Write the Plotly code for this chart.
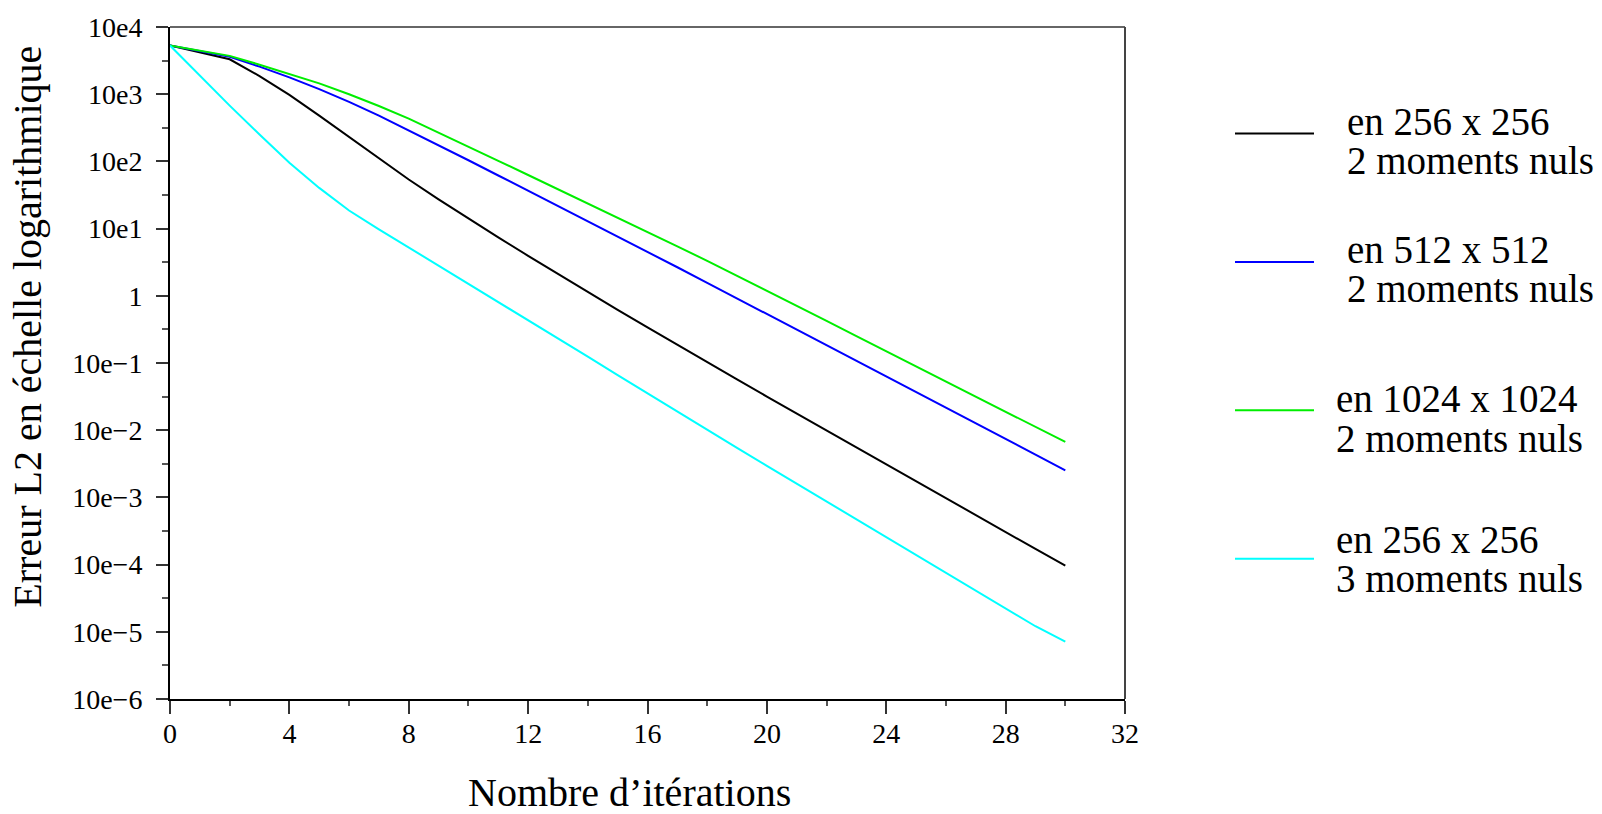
import plotly.graph_objects as go

# Iteration counts (x axis)
iterations = list(range(31))

# L2 error per iteration for each configuration
err_256_2m = [5.30e3, 4.17e3, 3.31e3, 1.86e3, 977, 479, 229, 110, 53.7, 27.2,
              14.1, 7.41, 3.94, 2.11, 1.14, 0.619, 0.339, 0.186, 0.103, 0.0570,
              0.0317, 0.0177, 9.84e-3, 5.50e-3, 3.07e-3, 1.72e-3, 9.64e-4, 5.41e-4,
              3.04e-4, 1.71e-4, 9.62e-5]
err_512_2m = [5.30e3, 4.37e3, 3.60e3, 2.57e3, 1.78e3, 1.19e3, 767, 479, 290, 173,
              104, 61.7, 36.7, 21.8, 12.9, 7.66, 4.52, 2.66, 1.56, 0.916,
              0.537, 0.315, 0.185, 0.108, 0.0634, 0.0372, 0.0218, 0.0127,
              7.41e-3, 4.34e-3, 2.53e-3]
err_1024_2m = [5.30e3, 4.44e3, 3.72e3, 2.75e3, 2.02e3, 1.45e3, 1.00e3, 668, 432, 269,
               164, 102, 62.8, 38.7, 23.8, 14.6, 8.93, 5.45, 3.31, 1.99,
               1.19, 0.708, 0.422, 0.251, 0.150, 0.0891, 0.0531, 0.0316,
               0.0188, 0.0112, 6.68e-3]
err_256_3m = [5.30e3, 1.88e3, 676, 251, 95.5, 40.3, 18.6, 9.77, 5.25, 2.82,
              1.53, 0.817, 0.436, 0.232, 0.124, 0.0661, 0.0352, 0.0188, 0.0101,
              5.46e-3, 2.95e-3, 1.60e-3, 8.71e-4, 4.73e-4, 2.55e-4, 1.38e-4,
              7.50e-5, 4.07e-5, 2.23e-5, 1.21e-5, 7.14e-6]

series_values = [err_256_2m, err_512_2m, err_1024_2m, err_256_3m]
series_colors = ["#000000", "#0000ff", "#00ee00", "#00ffff"]
legend_line1 = ["en 256 x 256", "en 512 x 512", "en 1024 x 1024", "en 256 x 256"]
legend_line2 = ["2 moments nuls", "2 moments nuls", "2 moments nuls", "3 moments nuls"]

# Axis ticks
x_tickvals = list(range(0, 33, 4))
y_exponents = list(range(-6, 5))
y_ticktext = ["10e\u22126", "10e\u22125", "10e\u22124", "10e\u22123", "10e\u22122",
              "10e\u22121", "1", "10e1", "10e2", "10e3", "10e4"]

FONT = "Liberation Serif, Times New Roman, serif"
W, H = 1602, 814
L, R, T, B = 170, 1125, 24, 699


def px_x(p):
    return (p - L) / (R - L)


def px_y(p):
    return (B - p) / (B - T)


fig = go.Figure()
for vals, col, n1, n2 in zip(series_values, series_colors, legend_line1, legend_line2):
    fig.add_trace(go.Scatter(x=iterations, y=vals, mode="lines",
                             line=dict(color=col, width=2),
                             name=f"{n1} {n2}", showlegend=False))

shapes = [
    dict(type="line", xref="paper", yref="paper", x0=0, x1=1, y0=1, y1=1,
         line=dict(color="#666666", width=2)),
    dict(type="line", xref="paper", yref="paper", x0=1, x1=1, y0=0, y1=1,
         line=dict(color="#444444", width=2)),
]

annotations = [
    dict(text="Nombre d\u2019it\u00e9rations", xref="paper", yref="paper",
         x=px_x(629), y=px_y(793), xanchor="center", yanchor="middle",
         showarrow=False, font=dict(family=FONT, size=40, color="black")),
    dict(text="Erreur L2 en \u00e9chelle logarithmique", xref="paper", yref="paper",
         x=px_x(28), y=px_y(325), xanchor="center", yanchor="middle", textangle=-90,
         showarrow=False, font=dict(family=FONT, size=40, color="black")),
]

# Legend block: sample line + two text lines per entry
legend_sample_y = [131, 260, 409, 558]
legend_text_x = [1345, 1345, 1334, 1334]
legend_mid1 = [119, 247, 397, 539]
legend_mid2 = [158, 287, 437, 578]
for i, col in enumerate(series_colors):
    shapes.append(dict(type="line", xref="paper", yref="paper",
                       x0=px_x(1235), x1=px_x(1314),
                       y0=px_y(legend_sample_y[i]), y1=px_y(legend_sample_y[i]),
                       line=dict(color=col, width=2)))
    for txt, mid in ((legend_line1[i], legend_mid1[i]), (legend_line2[i], legend_mid2[i])):
        annotations.append(dict(text=txt, xref="paper", yref="paper",
                                x=px_x(legend_text_x[i]), y=px_y(mid),
                                xanchor="left", yanchor="middle", showarrow=False,
                                font=dict(family=FONT, size=39, color="black")))

fig.update_layout(
    width=W, height=H,
    margin=dict(l=L, r=W - R, t=T, b=H - B, pad=0),
    paper_bgcolor="white", plot_bgcolor="white",
    showlegend=False,
    shapes=shapes, annotations=annotations,
    xaxis=dict(range=[0, 32], tickvals=x_tickvals, ticktext=[str(v) for v in x_tickvals],
               ticks="outside", ticklen=13, tickwidth=2, tickcolor="#333333",
               showline=True, linecolor="black", linewidth=2,
               showgrid=False, zeroline=False, ticklabelstandoff=-5,
               tickfont=dict(family=FONT, size=28, color="black"),
               minor=dict(dtick=2, tick0=0, ticks="outside", ticklen=5, tickwidth=2,
                          tickcolor="#555555", showgrid=False)),
    yaxis=dict(type="log", range=[-6, 4],
               tickvals=[10.0 ** e for e in y_exponents], ticktext=y_ticktext,
               ticks="outside", ticklen=12, tickwidth=2, tickcolor="#333333",
               showline=True, linecolor="black", linewidth=2,
               showgrid=False, zeroline=False, ticklabelstandoff=8,
               tickfont=dict(family=FONT, size=28, color="black"),
               minor=dict(tickvals=[10.0 ** (e + 0.5) for e in y_exponents[:-1]],
                          ticks="outside", ticklen=6, tickwidth=2,
                          tickcolor="#555555", showgrid=False)),
)

fig.write_html("out.html")
